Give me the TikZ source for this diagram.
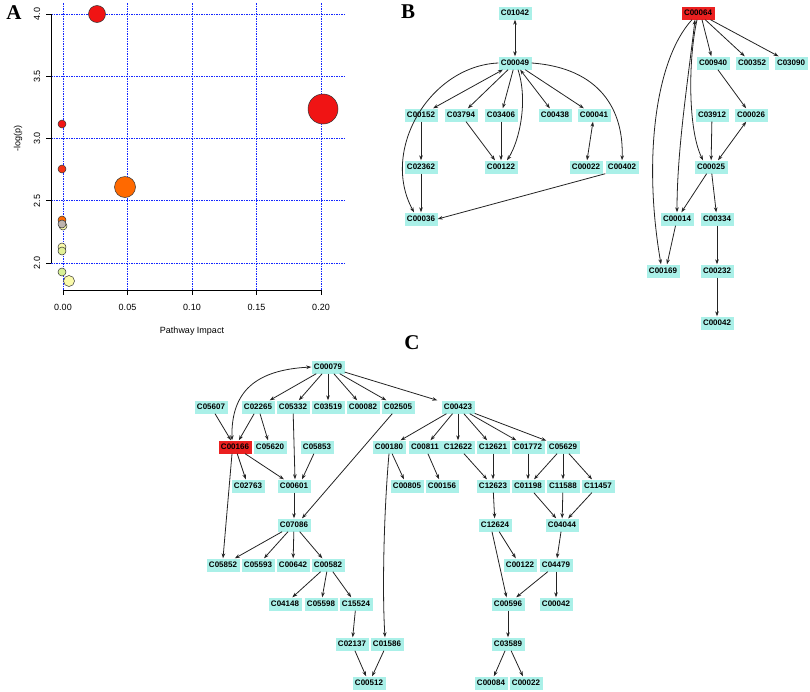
\documentclass[tikz,border=0pt]{standalone}
\usepackage{fontspec}
\setmainfont{Liberation Sans}
\newfontfamily\panelfont{Liberation Serif}
\usetikzlibrary{arrows.meta}
\definecolor{nodecyan}{RGB}{170,240,232}
\definecolor{nodered}{RGB}{235,32,32}
\definecolor{edgec}{RGB}{35,35,35}
\definecolor{gridblue}{RGB}{20,40,255}
\definecolor{bred}{RGB}{240,20,20}
\definecolor{bredor}{RGB}{245,50,20}
\definecolor{borange}{RGB}{255,105,0}
\definecolor{bgray}{RGB}{190,180,175}
\definecolor{bpale}{RGB}{250,250,170}
\definecolor{bygreen}{RGB}{225,240,150}
\definecolor{blgreen}{RGB}{215,240,150}
\tikzset{
  cb/.style={fill=nodecyan, minimum width=33pt, minimum height=13pt, inner sep=0.5pt,
             font=\fontsize{8}{9}\selectfont\bfseries},
  rb/.style={cb, fill=nodered},
  ed/.style={draw=edgec, line width=0.8pt, -{Stealth[length=5pt,width=3.6pt]}},
  ded/.style={draw=edgec, line width=0.8pt, {Stealth[length=5pt,width=3.6pt]}-{Stealth[length=5pt,width=3.6pt]}},
  gridl/.style={draw=gridblue, line width=1pt, dash pattern=on 1.5pt off 1pt},
  axl/.style={draw=black, line width=0.9pt},
  ticklab/.style={font=\fontsize{9}{10}\selectfont, inner sep=0pt},
  panel/.style={font=\panelfont\bfseries\fontsize{21}{21}\selectfont, inner sep=0pt},
  bub/.style={draw=black!80, line width=0.5pt},
}
\begin{document}
\begin{tikzpicture}[x=1pt,y=-1pt]
\useasboundingbox (0,0) rectangle (810,691);
% ---------------- Panel A ----------------
\node[panel] (pA) at (14,13) {A};
\foreach \gx in {63,127.5,192,256.5,321} {\draw[gridl] (\gx,3) -- (\gx,290);}
\foreach \gy in {14,76.25,138.5,200.75,263} {\draw[gridl] (51,\gy) -- (345,\gy);}
\draw[axl] (51,14) -- (51,263);
\foreach \gy/\lab in {14/4.0,76.25/3.5,138.5/3.0,200.75/2.5,263/2.0} {
  \draw[axl] (51,\gy) -- (46,\gy);
  \node[ticklab, rotate=90] (yt\lab) at (37,\gy) {\lab};
}
\draw[axl] (63,290) -- (321,290);
\foreach \gx/\lab in {63/0.00,127.5/0.05,192/0.10,256.5/0.15,321/0.20} {
  \draw[axl] (\gx,290) -- (\gx,295);
  \node[ticklab] (xt\lab) at (\gx,307) {\lab};
}
\node[ticklab] (xlab) at (192,331) {Pathway Impact};
\node[ticklab, rotate=90] (ylab) at (18,138) {-log(p)};
% bubbles
\fill[bub, fill=bred] (323,109) circle (15);
\fill[bub, fill=bred] (97,14) circle (8.5);
\fill[bub, fill=borange] (125,187) circle (10.5);
\fill[bub, fill=bred] (62,124) circle (4);
\fill[bub, fill=bredor] (62,169) circle (4);
\fill[bub, fill=bpale] (63,226) circle (4);
\fill[bub, fill=borange] (62,220) circle (4);
\fill[bub, fill=bgray] (62,224) circle (4);
\fill[bub, fill=bpale] (62,247) circle (4);
\fill[bub, fill=bygreen] (62,251) circle (4);
\fill[bub, fill=blgreen] (62,272) circle (4);
\fill[bub, fill=bpale] (69,281) circle (5.5);
% ---------------- Panel B ----------------
\node[panel] (pB) at (408,12) {B};
\node[cb] (C01042) at (515,13) {C01042};
\node[cb] (C00049) at (515,63) {C00049};
\node[cb] (C00152) at (421,115) {C00152};
\node[cb] (C03794) at (461,115) {C03794};
\node[cb] (C03406) at (501,115) {C03406};
\node[cb] (C00438) at (555,115) {C00438};
\node[cb] (C00041) at (594,115) {C00041};
\node[cb] (C02362) at (421,167) {C02362};
\node[cb] (bC00122) at (501,167) {C00122};
\node[cb] (bC00022) at (586,167) {C00022};
\node[cb] (C00402) at (622,167) {C00402};
\node[cb] (C00036) at (421,219) {C00036};
\draw[ded] (C00049) -- (C01042);
\draw[ded] (C00049) -- (C00152);
\draw[ed] (C00049) -- (C03794);
\draw[ed] (C00049) -- (C03406);
\draw[ded] (C00049) -- (C00438);
\draw[ed] (C00049) -- (C00041);
\draw[ed] (C00049.west) .. controls (430,66) and (380,150) .. ([xshift=-7pt]C00036.north);
\draw[ed] (C00049.east) .. controls (600,68) and (624,110) .. (C00402.north);
\draw[ed] ([xshift=3pt]C00049.south) .. controls (528,100) and (520,140) .. ([xshift=6pt]bC00122.north);
\draw[ed] (C00152) -- (C02362);
\draw[ed] (C02362) -- (C00036);
\draw[ed] (C03794) -- ([xshift=-6pt]bC00122.north);
\draw[ed] (C03406) -- (bC00122);
\draw[ded] (C00041) -- (bC00022);
\draw[ed] (C00402.south west) -- (C00036.east);
% right graph
\node[rb] (C00064) at (698,13) {C00064};
\node[cb] (C00940) at (713,63) {C00940};
\node[cb] (C00352) at (752,63) {C00352};
\node[cb] (C03090) at (791,63) {C03090};
\node[cb] (C03912) at (712,115) {C03912};
\node[cb] (C00026) at (751,115) {C00026};
\node[cb] (C00025) at (711,167) {C00025};
\node[cb] (C00014) at (677,219) {C00014};
\node[cb] (C00334) at (717,219) {C00334};
\node[cb] (C00169) at (663,271) {C00169};
\node[cb] (C00232) at (717,271) {C00232};
\node[cb] (bC00042) at (717,323) {C00042};
\draw[ed] ([xshift=4pt]C00064.south) -- (C00940);
\draw[ed] (C00064) -- (C00352);
\draw[ed] (C00064) -- (C03090);
\draw[ed] ([xshift=-6pt]C00064.south) .. controls (655,60) and (643,160) .. ([xshift=-2pt]C00169.north);
\draw[ded] ([xshift=-3pt]C00064.south) .. controls (688,80) and (677,150) .. (C00014.north);
\draw[ed] ([xshift=-1pt]C00064.south) .. controls (688,60) and (688,130) .. ([xshift=-8pt]C00025.north);
\draw[ed] (C00940) -- (C00026);
\draw[ed] (C03912) -- (C00025);
\draw[ded] (C00026) -- ([xshift=7pt]C00025.north);
\draw[ed] (C00025) -- (C00014);
\draw[ed] (C00025) -- (C00334);
\draw[ed] (C00014) -- ([xshift=4pt]C00169.north);
\draw[ed] (C00334) -- (C00232);
\draw[ed] (C00232) -- (bC00042);
% ---------------- Panel C ----------------
\node[panel] (pC) at (412,343) {C};
\node[cb] (C00079) at (328,367) {C00079};
\node[cb] (C05607) at (211,407) {C05607};
\node[cb] (C02265) at (258,407) {C02265};
\node[cb] (C05332) at (293,407) {C05332};
\node[cb] (C03519) at (328,407) {C03519};
\node[cb] (C00082) at (363,407) {C00082};
\node[cb] (C02505) at (398,407) {C02505};
\node[cb] (C00423) at (458,407) {C00423};
\node[rb] (C00166) at (235,447) {C00166};
\node[cb] (C05620) at (270,447) {C05620};
\node[cb] (C05853) at (317,447) {C05853};
\node[cb] (C00180) at (389,447) {C00180};
\node[cb] (C00811) at (425,447) {C00811};
\node[cb] (C12622) at (458,447) {C12622};
\node[cb] (C12621) at (493,447) {C12621};
\node[cb] (C01772) at (528,447) {C01772};
\node[cb] (C05629) at (563,447) {C05629};
\node[cb] (C02763) at (248,486) {C02763};
\node[cb] (C00601) at (294,486) {C00601};
\node[cb] (C00805) at (407,486) {C00805};
\node[cb] (C00156) at (442,486) {C00156};
\node[cb] (C12623) at (493,486) {C12623};
\node[cb] (C01198) at (528,486) {C01198};
\node[cb] (C11588) at (563,486) {C11588};
\node[cb] (C11457) at (598,486) {C11457};
\node[cb] (C07086) at (294,525) {C07086};
\node[cb] (C12624) at (495,525) {C12624};
\node[cb] (C04044) at (562,525) {C04044};
\node[cb] (C05852) at (223,565) {C05852};
\node[cb] (C05593) at (258,565) {C05593};
\node[cb] (C00642) at (293,565) {C00642};
\node[cb] (C00582) at (328,565) {C00582};
\node[cb] (cC00122) at (520,565) {C00122};
\node[cb] (C04479) at (556,565) {C04479};
\node[cb] (C04148) at (285,604) {C04148};
\node[cb] (C05598) at (321,604) {C05598};
\node[cb] (C15524) at (356,604) {C15524};
\node[cb] (C00596) at (508,604) {C00596};
\node[cb] (cC00042) at (556,604) {C00042};
\node[cb] (C02137) at (352,644) {C02137};
\node[cb] (C01586) at (387,644) {C01586};
\node[cb] (C03589) at (508,644) {C03589};
\node[cb] (C00512) at (369,683) {C00512};
\node[cb] (C00084) at (491,683) {C00084};
\node[cb] (cC00022) at (526,683) {C00022};
% edges C
\draw[ed] (C00079) -- (C02265);
\draw[ed] (C00079) -- (C05332);
\draw[ed] (C00079) -- (C03519);
\draw[ed] (C00079) -- (C00082);
\draw[ed] (C00079) -- (C02505);
\draw[ed] (C00079) -- ([xshift=-4pt]C00423.north west);
\draw[ded] ([xshift=-3pt]C00166.north) .. controls (231,392) and (255,370) .. (C00079.west);
\draw[ed] (C05607) -- (C00166);
\draw[ed] (C02265) -- (C00166);
\draw[ed] (C02265) -- (C05620);
\draw[ed] (C05332) -- ([xshift=1pt]C00601.north);
\draw[ed] (C05853) -- ([xshift=8pt]C00601.north);
\draw[ed] (C00166) -- (C02763);
\draw[ed] (C00166) -- (C00601);
\draw[ed] ([xshift=-3pt]C00166.south) -- (C05852.north);
\draw[ed] (C02505) -- ([xshift=8pt]C07086.north);
\draw[ed] (C00601) -- (C07086);
\draw[ed] (C07086) -- (C05852);
\draw[ed] (C07086) -- (C05593);
\draw[ed] (C07086) -- (C00642);
\draw[ed] (C07086) -- (C00582);
\draw[ed] (C00582) -- (C04148);
\draw[ed] (C00582) -- (C05598);
\draw[ed] (C00582) -- (C15524);
\draw[ed] (C15524) -- (C02137);
\draw[ed] (C02137) -- (C00512);
\draw[ed] (C01586) -- (C00512);
\draw[ed] (C00180.south) .. controls (384,510) and (382,590) .. ([xshift=-2pt]C01586.north);
\draw[ed] (C00180) -- (C00805);
\draw[ed] (C00811) -- (C00156);
\draw[ed] (C00423) -- (C00180);
\draw[ed] (C00423) -- (C00811);
\draw[ed] (C00423) -- (C12622);
\draw[ed] (C00423) -- (C12621);
\draw[ed] (C00423) -- (C01772);
\draw[ed] (C00423) -- (C05629);
\draw[ed] (C12622) -- (C12623);
\draw[ed] (C12621) -- (C12623);
\draw[ed] (C01772) -- (C01198);
\draw[ed] (C05629) -- (C01198);
\draw[ed] (C05629) -- (C11588);
\draw[ed] (C05629) -- (C11457);
\draw[ed] (C01198) -- (C04044);
\draw[ed] (C11588) -- (C04044);
\draw[ed] (C11457) -- (C04044);
\draw[ed] (C12623) -- (C12624);
\draw[ed] (C12624) -- (cC00122);
\draw[ed] ([xshift=-3pt]C12624.south) -- (C00596);
\draw[ed] (C04044) -- (C04479);
\draw[ed] (C04479) -- (C00596);
\draw[ed] (C04479) -- (cC00042);
\draw[ed] (C00596) -- (C03589);
\draw[ed] (C03589) -- (C00084);
\draw[ed] (C03589) -- (cC00022);
\end{tikzpicture}
\end{document}
